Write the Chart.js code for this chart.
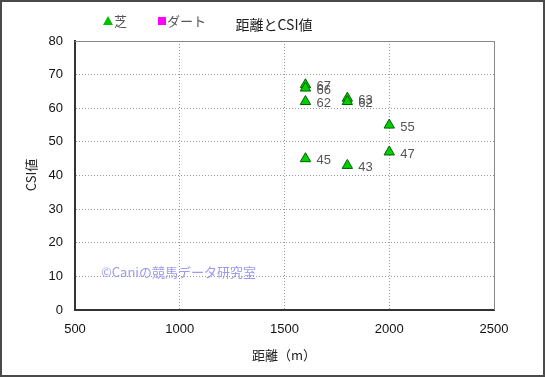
<!DOCTYPE html>
<html>
<head>
<meta charset="utf-8">
<script src="https://cdn.jsdelivr.net/npm/chart.js@4"></script>
<style>
  html, body { margin: 0; padding: 0; background: #fff; }
  #wrap { width: 545px; height: 377px; position: relative; }
</style>
</head>
<body>
<div id="wrap"><canvas id="csiChart" width="545" height="377"></canvas></div>
<script>
// Data
const turfDistance = [1600, 1600, 1600, 1600, 1800, 1800, 1800, 2000, 2000];
const turfCsi      = [67, 66, 62, 45, 63, 62, 43, 55, 47];
const dirtDistance = [];
const dirtCsi      = [];
const xTicks = [500, 1000, 1500, 2000, 2500];
const yTicks = [0, 10, 20, 30, 40, 50, 60, 70, 80];

const jpFont = '"Noto Sans CJK JP", "Liberation Sans", sans-serif';
const numFont = '"Liberation Sans", Arial, sans-serif';

function toPoints(xs, ys) {
    return xs.map((x, i) => ({ x: x, y: ys[i] }));
}

// Extra drawing: frame, title, legend, point labels, watermark, axis titles
const decorations = {
    id: 'decorations',
    afterDatasetsDraw(chart) {
        const ctx = chart.ctx;
        const area = chart.chartArea;
        ctx.save();

        // top and right edges of the plot area
        ctx.strokeStyle = '#888';
        ctx.lineWidth = 1;
        ctx.beginPath();
        ctx.moveTo(area.left, area.top + 0.5);
        ctx.lineTo(area.right + 0.5, area.top + 0.5);
        ctx.lineTo(area.right + 0.5, area.bottom);
        ctx.stroke();

        // value labels beside each point
        ctx.font = '13px ' + numFont;
        ctx.fillStyle = '#555';
        ctx.textAlign = 'left';
        ctx.textBaseline = 'middle';
        const meta = chart.getDatasetMeta(0);
        meta.data.forEach((pt, i) => {
            ctx.fillText(String(turfCsi[i]), pt.x + 11, pt.y + 2);
        });

        // watermark
        ctx.font = '13px ' + jpFont;
        ctx.fillStyle = '#9a9af0';
        ctx.textBaseline = 'middle';
        ctx.fillText('©Caniの競馬データ研究室', 101, 272);
        ctx.restore();
    },
    afterDraw(chart) {
        const ctx = chart.ctx;
        ctx.save();

        // title
        ctx.font = '14px ' + jpFont;
        ctx.fillStyle = '#222';
        ctx.textAlign = 'center';
        ctx.textBaseline = 'middle';
        ctx.fillText('距離とCSI値', 274, 25);

        // legend
        ctx.fillStyle = '#00c000';
        ctx.beginPath();
        ctx.moveTo(108, 16);
        ctx.lineTo(113, 25);
        ctx.lineTo(103, 25);
        ctx.closePath();
        ctx.fill();
        ctx.fillStyle = '#ff00ff';
        ctx.fillRect(158, 17, 8, 8);
        ctx.font = '13px ' + jpFont;
        ctx.fillStyle = '#555';
        ctx.textAlign = 'left';
        ctx.fillText('芝', 114, 21);
        ctx.fillText('ダート', 167, 21);

        // axis titles
        ctx.font = '13px ' + jpFont;
        ctx.fillStyle = '#222';
        ctx.textAlign = 'center';
        ctx.fillText('距離（m）', 284, 355);
        ctx.translate(31, 175);
        ctx.rotate(-Math.PI / 2);
        ctx.fillText('CSI値', 0, 0);
        ctx.restore();

        // outer frame
        ctx.save();
        ctx.strokeStyle = '#4a4a4a';
        ctx.lineWidth = 2;
        ctx.strokeRect(1, 1, chart.width - 2, chart.height - 2);
        ctx.restore();
    }
};

new Chart(document.getElementById('csiChart'), {
    type: 'scatter',
    data: {
        datasets: [{
            label: '芝',
            data: toPoints(turfDistance, turfCsi),
            pointStyle: 'triangle',
            radius: 6,
            hoverRadius: 6,
            backgroundColor: '#00d000',
            borderColor: '#006000',
            borderWidth: 1
        }, {
            label: 'ダート',
            data: toPoints(dirtDistance, dirtCsi),
            pointStyle: 'rect',
            radius: 5,
            backgroundColor: '#ff00ff',
            borderColor: '#800080',
            borderWidth: 1
        }]
    },
    options: {
        responsive: false,
        animation: false,
        layout: {
            padding: { left: 0, top: 41, right: 51, bottom: 0 }
        },
        plugins: {
            legend: { display: false },
            title: { display: false },
            tooltip: { enabled: false }
        },
        scales: {
            x: {
                type: 'linear',
                min: 500,
                max: 2500,
                afterFit: (scale) => { scale.height = 67; },
                afterBuildTicks: (scale) => { scale.ticks = xTicks.map(v => ({ value: v })); },
                grid: { color: '#999', drawTicks: false },
                border: { color: '#333', width: 2, dash: [1, 2] },
                ticks: {
                    padding: 12,
                    color: '#111',
                    font: { family: numFont, size: 13 },
                    maxRotation: 0,
                    callback: (v) => String(v)
                }
            },
            y: {
                type: 'linear',
                min: 0,
                max: 80,
                afterFit: (scale) => { scale.width = 75; },
                afterBuildTicks: (scale) => { scale.ticks = yTicks.map(v => ({ value: v })); },
                grid: { color: '#999', drawTicks: false },
                border: { color: '#333', width: 2, dash: [1, 2] },
                ticks: {
                    padding: 12,
                    color: '#111',
                    font: { family: numFont, size: 13 },
                    callback: (v) => String(v)
                }
            }
        }
    },
    plugins: [decorations]
});
</script>
</body>
</html>
